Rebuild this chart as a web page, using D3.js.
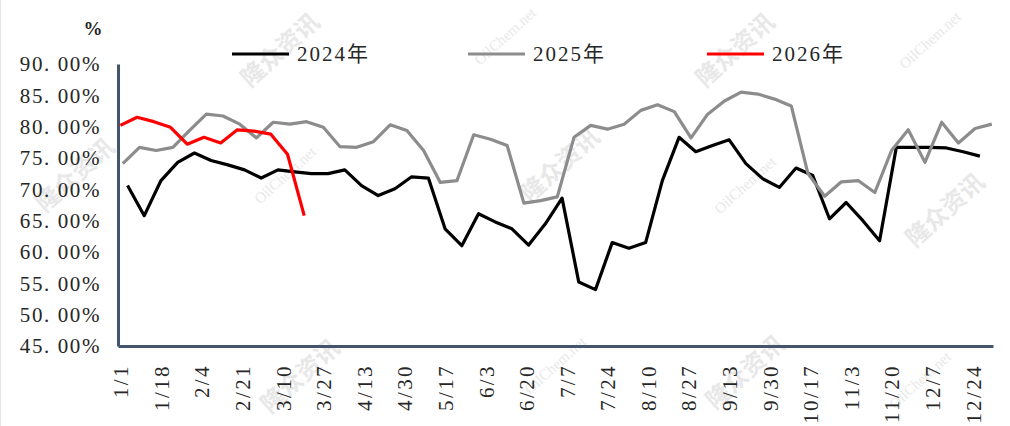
<!DOCTYPE html>
<html>
<head>
<meta charset="utf-8">
<script src="https://cdn.jsdelivr.net/npm/d3@7/dist/d3.min.js"></script>
<style>
  body { margin: 0; background: #fff; }
  svg { display: block; }
  .tick text { font-family: "Liberation Serif", "Noto Sans CJK SC", serif; fill: #262626; }
</style>
</head>
<body>
<svg id="chart" width="1010" height="426"></svg>
<script>
// x tick labels (month/day)
var tickLabels = ["1/1", "1/18", "2/4", "2/21", "3/10", "3/27", "4/13", "4/30", "5/17", "6/3", "6/20",
  "7/7", "7/24", "8/10", "8/27", "9/13", "9/30", "10/17", "11/3", "11/20", "12/7", "12/24"];
var yTicks = [45, 50, 55, 60, 65, 70, 75, 80, 85, 90];

// weekly readings, first week date of each year
var firstDate2024 = "2024-01-04";
var firstDate2025 = "2025-01-02";
var firstDate2026 = "2026-01-01";

var values2024 = [70.6, 65.8, 71.4, 74.3, 75.8, 74.6, 73.9, 73.1, 71.8, 73.1, 72.8, 72.5, 72.5,
  73.1, 70.6, 69.0, 70.1, 72.0, 71.8, 63.7, 61.0, 66.1, 64.8, 63.7, 61.1, 64.5, 68.6,
  55.2, 54.0, 61.5, 60.6, 61.5, 71.4, 78.3, 76.0, 77.0, 77.9, 74.1, 71.7, 70.3, 73.4,
  72.2, 65.3, 67.9, 65.0, 61.8, 76.7, 76.7, 76.7, 76.6, 76.0, 75.3];
var values2025 = [74.1, 76.7, 76.2, 76.7, 79.4, 82.0, 81.7, 80.4, 78.2, 80.7, 80.4, 80.8, 79.9,
  76.8, 76.7, 77.6, 80.3, 79.4, 76.2, 71.1, 71.4, 78.7, 78.0, 77.0, 67.8, 68.2, 68.8,
  78.3, 80.2, 79.6, 80.4, 82.6, 83.5, 82.4, 78.2, 82.0, 84.1, 85.5, 85.2, 84.4, 83.3,
  72.5, 68.9, 71.2, 71.4, 69.5, 76.2, 79.5, 74.3, 80.7, 77.4, 79.7, 80.4];
var values2026 = [80.2, 81.5, 80.8, 79.9, 77.2, 78.3, 77.4, 79.5, 79.3, 78.8, 75.6, 65.8];

var seriesNames = ["2024年", "2025年", "2026年"];
var seriesColors = ["#000000", "#8c8c8c", "#ff0000"];

var parseIso = d3.timeParse("%Y-%m-%d");
var parseMd = d3.timeParse("%m/%d");

function dayOfYear(date) {
  return d3.timeDay.count(d3.timeYear(date), date);
}

// one point a week, counted in days from the start of the first date's year
function weekly(start, vals) {
  var first = parseIso(start);
  var yearStart = d3.timeYear(first);
  var dates = d3.timeDay.every(1).range(first, d3.timeDay.offset(first, 7 * vals.length))
    .filter(function(d, i) { return i % 7 === 0; });
  return vals.map(function(v, i) {
    return { day: d3.timeDay.count(yearStart, dates[i]), value: v };
  });
}

var series = [
  weekly(firstDate2024, values2024),
  weekly(firstDate2025, values2025),
  weekly(firstDate2026, values2026)
];

var svg = d3.select("#chart");

// faint watermarks
var marks = [
  { t: "隆众资讯", x: 280, y: 50 }, { t: "隆众资讯", x: 560, y: 165 }, { t: "隆众资讯", x: 735, y: 50 },
  { t: "隆众资讯", x: 945, y: 210 }, { t: "隆众资讯", x: 75, y: 175 }, { t: "隆众资讯", x: 300, y: 376 },
  { t: "隆众资讯", x: 745, y: 372 }, { t: "OilChem.net", x: 505, y: 36 }, { t: "OilChem.net", x: 930, y: 40 },
  { t: "OilChem.net", x: 285, y: 175 }, { t: "OilChem.net", x: 745, y: 185 }, { t: "OilChem.net", x: 555, y: 365 },
  { t: "OilChem.net", x: 920, y: 380 }
];
svg.selectAll(".wm")
  .data(marks)
  .enter()
  .append("text")
  .attr("class", "wm")
  .attr("transform", function(d) { return "translate(" + d.x + "," + d.y + ") rotate(-42)"; })
  .attr("text-anchor", "middle")
  .attr("dy", "0.35em")
  .style("font-family", function(d) { return d.t === "OilChem.net" ? "Liberation Serif" : "Noto Sans CJK SC"; })
  .style("font-weight", function(d) { return d.t === "OilChem.net" ? "normal" : "bold"; })
  .style("font-size", function(d) { return d.t === "OilChem.net" ? "15px" : "24px"; })
  .style("fill", "#e8e8e8")
  .text(function(d) { return d.t; });

svg.append("line")
  .attr("x1", 0.5).attr("x2", 0.5).attr("y1", 0).attr("y2", 426)
  .attr("stroke", "#dfe5ee");

var x = d3.scaleLinear().domain([-1, 365.5]).range([118, 993]);
var y = d3.scaleLinear().domain([45, 90]).range([346, 64]);

var yAxis = d3.axisLeft(y)
  .tickValues(yTicks)
  .tickSize(0)
  .tickPadding(17)
  .tickFormat(function(d) { return d3.format(".2f")(d).replace(".", ". ") + "%"; });

var gy = svg.append("g")
  .attr("transform", "translate(118,0)")
  .call(yAxis);
gy.selectAll("text").style("font-size", "21px").style("letter-spacing", "1.6px");

var tickDays = tickLabels.map(function(s) { return dayOfYear(parseMd(s)); });

var xAxis = d3.axisBottom(x)
  .tickValues(tickDays)
  .tickSize(0)
  .tickSizeOuter(0)
  .tickFormat(function(d, i) { return tickLabels[i]; });

var gx = svg.append("g")
  .attr("transform", "translate(0,346)")
  .call(xAxis);
gx.selectAll("text")
  .attr("transform", "rotate(-90)")
  .attr("text-anchor", "end")
  .attr("x", -18)
  .attr("y", 0)
  .attr("dy", "0.35em")
  .style("font-size", "21px")
  .style("letter-spacing", "2.4px");

gx.select(".domain").attr("stroke", "#44546a").attr("stroke-width", 3);
gy.select(".domain").attr("stroke", "#44546a").attr("stroke-width", 3);

var line = d3.line()
  .x(function(d) { return x(d.day); })
  .y(function(d) { return y(d.value); });

svg.selectAll(".series")
  .data(series)
  .enter()
  .append("path")
  .attr("class", "series")
  .attr("d", line)
  .attr("fill", "none")
  .attr("stroke", function(d, i) { return seriesColors[i]; })
  .attr("stroke-width", 3.2)
  .attr("stroke-linejoin", "round");

// unit label
svg.append("text")
  .attr("x", 93).attr("y", 35)
  .attr("text-anchor", "middle")
  .style("font-family", "Liberation Serif, serif")
  .style("font-weight", "bold")
  .style("font-size", "19px")
  .style("fill", "#262626")
  .text("%");

// legend
var legendX = [232, 468, 707];
var legend = svg.selectAll(".legend")
  .data(seriesNames)
  .enter()
  .append("g")
  .attr("class", "legend")
  .attr("transform", function(d, i) { return "translate(" + legendX[i] + ",54)"; });

legend.append("line")
  .attr("x1", 0).attr("x2", 57)
  .attr("stroke", function(d, i) { return seriesColors[i]; })
  .attr("stroke-width", 3.2);

legend.append("text")
  .attr("x", 65)
  .attr("dy", "0.35em")
  .style("font-family", "Liberation Serif, Noto Sans CJK SC, serif")
  .style("font-size", "21px")
  .style("letter-spacing", "2px")
  .style("fill", "#262626")
  .text(function(d) { return d; });
</script>
</body>
</html>
